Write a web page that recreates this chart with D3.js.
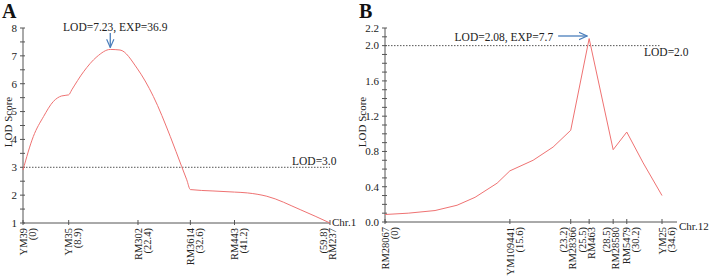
<!DOCTYPE html>
<meta charset="utf-8">
<script src="https://cdn.jsdelivr.net/npm/d3@7"></script>
<style>
  body { margin: 0; background: #fff; }
</style>
<div id="chart"></div>
<script>

  // ---- data: panel A (Chr.1) ----
  var markersA = ["YM39", "YM35", "RM302", "RM3614", "RM443", "RM237"];
  var markerPosA = [0, 8.9, 22.4, 32.6, 41.2, 59.8];
  var flippedA = [false, false, false, false, false, true];   // "(pos)" printed first
  var curveXA = [0, 2.0, 4.0, 5.9, 7.5, 8.9, 9.5, 11.8, 14.4, 17.0, 18.9, 22.2, 25.4, 28.7, 30.9, 31.9, 32.6, 37.0, 41.2, 43.7, 47.5, 54.0, 59.8];
  var curveYA = [2.9, 4.1, 4.82, 5.36, 5.56, 5.6, 5.78, 6.43, 6.97, 7.23, 7.21, 6.56, 5.54, 4.1, 3.03, 2.55, 2.2, 2.15, 2.11, 2.08, 1.96, 1.48, 1.0];
  var yTicksA = [1, 2, 3, 4, 5, 6, 7, 8];

  // ---- data: panel B (Chr.12) ----
  var markersB = ["RM28067", "YM109441", "RM28366", "RM463", "RM28580", "RM5479", "YM25"];
  var markerPosB = [0, 15.6, 23.2, 25.5, 28.5, 30.2, 34.6];
  var flippedB = [false, false, true, true, true, false, false];
  var curveXB = [0, 2.9, 6.25, 9.0, 11.25, 14.0, 15.6, 18.5, 21.0, 23.2, 25.5, 28.5, 30.2, 32.25, 34.6];
  var curveYB = [0.085, 0.10, 0.13, 0.19, 0.28, 0.44, 0.58, 0.70, 0.85, 1.04, 2.08, 0.82, 1.02, 0.67, 0.30];
  var yTicksB = [0.0, 0.4, 0.8, 1.2, 1.6, 2.0, 2.2];

  var W = 709, H = 277;
  var svg = d3.select("#chart").append("svg")
      .attr("width", W)
      .attr("height", H)
      .style("font-family", "'Liberation Serif', 'DejaVu Serif', serif");

  var lineColor = "#ef7272", axisColor = "#555", textColor = "#222", arrowColor = "#4a7ebb";

  svg.append("defs").append("marker")
      .attr("id", "arrow")
      .attr("viewBox", "0 0 10 10")
      .attr("refX", 9).attr("refY", 5)
      .attr("markerWidth", 7).attr("markerHeight", 7)
      .attr("orient", "auto")
    .append("path")
      .attr("d", "M0,1 L9,5 L0,9")
      .attr("fill", "none")
      .attr("stroke", arrowColor)
      .attr("stroke-width", 1.3);

  function label(g, size) {
    return g.append("text")
      .attr("font-family", "Liberation Serif, serif")
      .attr("fill", textColor)
      .style("font-size", size);
  }

  function drawPanel(o) {
    var g = svg.append("g");

    var x = d3.scaleLinear().domain(o.xDomain).range(o.xRange);
    var y = d3.scaleLinear().domain(o.yDomain).range(o.yRange);

    // y axis line + ticks
    g.append("line")
      .attr("x1", x(0)).attr("x2", x(0))
      .attr("y1", y(o.yDomain[0])).attr("y2", y(o.yDomain[1]))
      .attr("stroke", axisColor);
    g.selectAll(".minor").data(o.minorTicks).enter().append("line")
      .attr("x1", x(0) - 3).attr("x2", x(0) + 2)
      .attr("y1", function (d) { return y(d); })
      .attr("y2", function (d) { return y(d); })
      .attr("stroke", axisColor);
    o.yTicks.forEach(function (t) {
      label(g, "11px")
        .attr("x", x(0) - 6)
        .attr("y", y(t))
        .attr("dy", "0.35em")
        .attr("text-anchor", "end")
        .text(o.yFormat(t));
    });

    // x axis line + marker ticks
    g.append("line")
      .attr("x1", x(0)).attr("x2", o.axisEnd)
      .attr("y1", y(o.yDomain[0])).attr("y2", y(o.yDomain[0]))
      .attr("stroke", axisColor);
    g.selectAll(".xt").data(o.markerPos).enter().append("line")
      .attr("x1", function (d) { return x(d); })
      .attr("x2", function (d) { return x(d); })
      .attr("y1", y(o.yDomain[0]) - 3).attr("y2", y(o.yDomain[0]) + 2)
      .attr("stroke", axisColor);

    // marker labels: two rotated lines each
    var base = y(o.yDomain[0]) + 5;
    o.markers.forEach(function (name, i) {
      var px = x(o.markerPos[i]);
      var pos = "(" + o.markerPos[i] + ")";
      var lines = o.flipped[i] ? [[pos, px - 7], [name, px + 2]] : [[name, px], [pos, px + 9]];
      lines.forEach(function (l) {
        label(g, "10.5px")
          .attr("transform", "translate(" + l[1] + "," + base + ") rotate(-90)")
          .attr("dy", "0.35em")
          .attr("text-anchor", "end")
          .text(l[0]);
      });
    });

    label(g, "11px")
      .attr("x", o.axisEnd + 2)
      .attr("y", y(o.yDomain[0]))
      .attr("dy", o.chrDy)
      .text(o.chr);

    // threshold dotted line
    g.append("line")
      .attr("x1", x(0)).attr("x2", o.threshEnd)
      .attr("y1", y(o.threshold)).attr("y2", y(o.threshold))
      .attr("stroke", "#555")
      .attr("stroke-dasharray", "1.5,1.5");
    label(g, "11.5px")
      .attr("x", o.threshLabel[0]).attr("y", o.threshLabel[1])
      .attr("dy", "0.35em")
      .text("LOD=" + o.threshold.toFixed(1));

    // LOD curve
    var pts = o.cx.map(function (d, i) { return [d, o.cy[i]]; });
    g.append("path")
      .datum(pts)
      .attr("fill", "none")
      .attr("stroke", lineColor)
      .attr("stroke-width", 1)
      .attr("d", d3.line()
        .curve(o.curve)
        .x(function (d) { return x(d[0]); })
        .y(function (d) { return y(d[1]); }));

    // y label
    label(g, "11px")
      .attr("transform", "translate(" + o.yLabelX + "," + o.yLabelY + ") rotate(-90)")
      .attr("dy", "0.35em")
      .attr("text-anchor", "middle")
      .text("LOD Score");

    // panel letter
    label(g, "20px")
      .attr("x", o.letterX).attr("y", 18)
      .style("font-weight", "bold")
      .attr("fill", "#111")
      .text(o.letter);

    return { x: x, y: y, g: g };
  }

  var A = drawPanel({
    letter: "A", letterX: 2,
    xDomain: [0, 59.8], xRange: [23, 330], axisEnd: 330,
    yDomain: [1, 8], yRange: [223, 28],
    yTicks: yTicksA, minorTicks: d3.range(1, 8.01, 0.5), yFormat: d3.format("d"),
    markers: markersA, markerPos: markerPosA, flipped: flippedA,
    cx: curveXA, cy: curveYA, curve: d3.curveMonotoneX,
    threshold: 3.0, threshEnd: 330, threshLabel: [292, 161],
    chr: "Chr.1", chrDy: "0.3em",
    yLabelX: 8, yLabelY: 122
  });

  var B = drawPanel({
    letter: "B", letterX: 359,
    xDomain: [0, 34.6], xRange: [385, 662], axisEnd: 677,
    yDomain: [0, 2.2], yRange: [222, 28],
    yTicks: yTicksB, minorTicks: d3.range(0, 2.201, 0.1), yFormat: d3.format(".1f"),
    markers: markersB, markerPos: markerPosB, flipped: flippedB,
    cx: curveXB, cy: curveYB, curve: d3.curveLinear,
    threshold: 2.0, threshEnd: 660, threshLabel: [644, 52],
    chr: "Chr.12", chrDy: "0.75em",
    yLabelX: 362, yLabelY: 122
  });

  // peak annotations
  var peakA = d3.maxIndex(curveYA);
  label(A.g, "11.5px")
    .attr("x", A.x(curveXA[peakA]) + 5).attr("y", 27)
    .attr("dy", "0.35em")
    .attr("text-anchor", "middle")
    .text("LOD=" + curveYA[peakA] + ", EXP=36.9");
  A.g.append("line")
    .attr("x1", A.x(curveXA[peakA])).attr("x2", A.x(curveXA[peakA]))
    .attr("y1", 33).attr("y2", A.y(curveYA[peakA]) - 2)
    .attr("stroke", arrowColor).attr("stroke-width", 1.3)
    .attr("marker-end", "url(#arrow)");

  var peakB = d3.maxIndex(curveYB);
  label(B.g, "11.5px")
    .attr("x", B.x(curveXB[peakB]) - 36).attr("y", 37)
    .attr("dy", "0.35em")
    .attr("text-anchor", "end")
    .text("LOD=" + curveYB[peakB] + ", EXP=7.7");
  B.g.append("line")
    .attr("x1", B.x(curveXB[peakB]) - 31).attr("x2", B.x(curveXB[peakB]) - 2)
    .attr("y1", 36).attr("y2", 36)
    .attr("stroke", arrowColor).attr("stroke-width", 1.3)
    .attr("marker-end", "url(#arrow)");

</script>
